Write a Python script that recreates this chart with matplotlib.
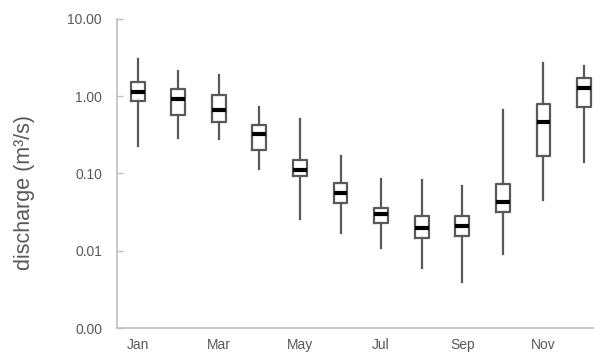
import numpy as np
import matplotlib
matplotlib.use("Agg")
import matplotlib.pyplot as plt

plt.rcParams["font.family"] = ["Liberation Sans", "DejaVu Sans"]

# monthly discharge statistics (m3/s)
months = ["Jan", "Feb", "Mar", "Apr", "May", "Jun",
          "Jul", "Aug", "Sep", "Oct", "Nov", "Dec"]
q_min = [0.23, 0.29, 0.28, 0.115, 0.026, 0.017, 0.011, 0.0059, 0.0039, 0.009, 0.046, 0.14]
q_25 = [0.87, 0.58, 0.47, 0.20, 0.094, 0.041, 0.0226, 0.0146, 0.0154, 0.032, 0.167, 0.72]
q_50 = [1.13, 0.92, 0.66, 0.32, 0.111, 0.056, 0.0296, 0.0197, 0.0209, 0.043, 0.47, 1.27]
q_75 = [1.52, 1.25, 1.04, 0.42, 0.148, 0.076, 0.036, 0.028, 0.028, 0.074, 0.80, 1.74]
q_max = [3.0, 2.12, 1.87, 0.73, 0.51, 0.168, 0.084, 0.082, 0.0695, 0.66, 2.67, 2.44]

ytick_vals = [0.001, 0.01, 0.1, 1, 10]
ytick_labels = ["0.00", "0.01", "0.10", "1.00", "10.00"]

grey = "#595959"
light = "#bfbfbf"

stats = []
for i in range(len(months)):
    stats.append(dict(whislo=q_min[i], q1=q_25[i], med=q_50[i],
                      q3=q_75[i], whishi=q_max[i], fliers=[]))

fig = plt.figure(figsize=(5.94, 3.53), dpi=100)
ax = fig.add_axes([0.1975, 0.0708, 0.8199, 0.8754])

ax.bxp(stats, positions=np.arange(1, 13), widths=0.34, showcaps=False,
       boxprops=dict(color=grey, linewidth=1.6),
       whiskerprops=dict(color=grey, linewidth=1.6),
       medianprops=dict(color="black", linewidth=3, solid_capstyle="butt"))

ax.set_yscale("log")
ax.set_ylim(0.001, 10)
ax.set_xlim(0.5, 12.5)
ax.set_yticks(ytick_vals)
ax.set_yticklabels(ytick_labels)
ax.yaxis.set_minor_locator(matplotlib.ticker.NullLocator())
ax.set_xticks(np.arange(1, 13, 2))
ax.set_xticklabels(months[::2])

ax.tick_params(axis="y", direction="in", length=4, color=light, width=1,
               labelsize=10, labelcolor=grey, pad=11)
ax.tick_params(axis="x", length=0, labelsize=10, labelcolor=grey, pad=7)

for s in ["top", "right"]:
    ax.spines[s].set_visible(False)
for s in ["left", "bottom"]:
    ax.spines[s].set_color(light)
    ax.spines[s].set_linewidth(1.2)

ax.set_ylabel("discharge (m³/s)", fontsize=15.5, color=grey)
ax.yaxis.set_label_coords(-0.169, 0.437)

fig.savefig("out.png", dpi=100)
